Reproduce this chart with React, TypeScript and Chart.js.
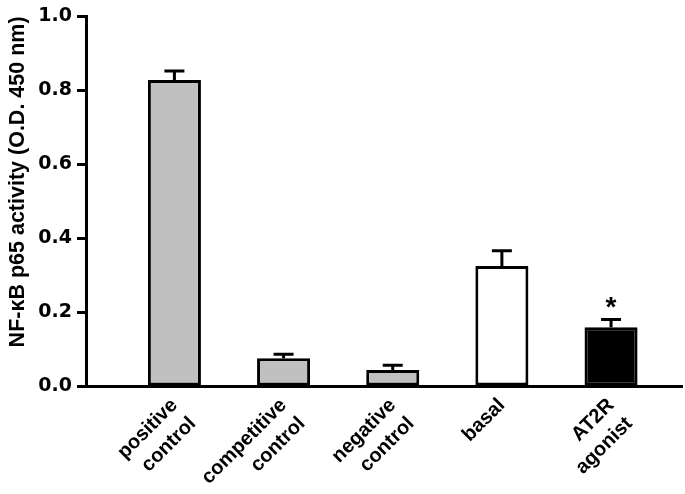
import React, { useEffect, useRef } from 'react';
import { Chart, registerables } from 'chart.js';

Chart.register(...registerables);

const categories: string[][] = [
  ['positive', 'control'],
  ['competitive', 'control'],
  ['negative', 'control'],
  ['basal'],
  ['AT2R', 'agonist'],
];
const positions: number[] = [1, 2, 3, 4, 5];
const means: number[] = [0.828, 0.075, 0.043, 0.325, 0.159];
const errorTops: number[] = [0.852, 0.086, 0.056, 0.366, 0.18];
const barColors: string[] = ['#c0c0c0', '#c0c0c0', '#c0c0c0', '#ffffff', '#000000'];
const significance: string[] = ['', '', '', '', '*'];
const yTickValues: number[] = [0, 0.2, 0.4, 0.6, 0.8, 1.0];
const yTitle = 'NF-\u03baB p65 activity (O.D. 450 nm)';

const errorBarPlugin = {
  id: 'errorBars',
  afterDatasetsDraw(chart: any) {
    const meta = chart.getDatasetMeta(0);
    const yScale = chart.scales.y;
    const ctx = chart.ctx as CanvasRenderingContext2D;
    ctx.save();
    ctx.strokeStyle = '#000';
    ctx.fillStyle = '#000';
    ctx.lineWidth = 3;
    meta.data.forEach((bar: any, i: number) => {
      const x = bar.x;
      const top = bar.y;
      const capY = yScale.getPixelForValue(errorTops[i]);
      ctx.beginPath();
      ctx.moveTo(x, top);
      ctx.lineTo(x, capY);
      ctx.moveTo(x - 10, capY);
      ctx.lineTo(x + 10, capY);
      ctx.stroke();
      if (significance[i]) {
        ctx.font = 'bold 28px "Liberation Sans", Arial, sans-serif';
        ctx.textAlign = 'center';
        ctx.textBaseline = 'alphabetic';
        ctx.fillText(significance[i], x, capY - 3);
      }
    });
    ctx.restore();
  },
};

export default function App() {
  const canvasRef = useRef<HTMLCanvasElement | null>(null);

  useEffect(() => {
    if (!canvasRef.current) return;
    const chart = new Chart(canvasRef.current, {
      type: 'bar',
      data: {
        datasets: [
          {
            data: positions.map((p, i) => ({ x: p, y: means[i] })),
            backgroundColor: barColors,
            borderColor: '#000',
            borderWidth: 3,
            borderSkipped: false,
            barPercentage: 0.486,
            categoryPercentage: 1,
          },
        ],
      },
      options: {
        animation: false,
        responsive: false,
        devicePixelRatio: 1,
        layout: { padding: { top: 14, right: 3, bottom: 0, left: 0 } },
        plugins: { legend: { display: false }, tooltip: { enabled: false } },
        scales: {
          x: {
            type: 'linear',
            offset: false,
            min: 0.19,
            max: 5.65,
            afterBuildTicks: (scale: any) => {
              scale.ticks = positions.map((v) => ({ value: v }));
            },
            afterFit: (scale: any) => {
              scale.height = 108;
            },
            grid: { display: true, drawOnChartArea: false, drawTicks: false, color: 'rgba(0,0,0,0)' },
            border: { display: true, color: '#000', width: 3 },
            ticks: {
              autoSkip: false,
              minRotation: 45,
              maxRotation: 45,
              padding: 7,
              color: '#000',
              font: { family: '"Liberation Sans", Arial, sans-serif', weight: 'bold', size: 20, lineHeight: 1.3 },
              callback: (value: any) => {
                const idx = positions.indexOf(Number(value));
                return idx >= 0 ? categories[idx] : '';
              },
            },
          },
          y: {
            min: 0,
            max: 1,
            afterBuildTicks: (scale: any) => {
              scale.ticks = yTickValues.map((v) => ({ value: v }));
            },
            afterFit: (scale: any) => {
              scale.width = 86;
            },
            grid: {
              display: true,
              drawOnChartArea: false,
              drawTicks: true,
              tickLength: 9,
              tickWidth: 3,
              tickColor: '#000',
              color: '#000',
            },
            border: { display: true, color: '#000', width: 3 },
            ticks: {
              padding: 5,
              color: '#000',
              font: { family: '"DejaVu Sans", sans-serif', weight: 'bold', size: 19 },
              callback: (value: any) => Number(value).toFixed(1),
            },
            title: {
              display: true,
              text: yTitle,
              align: 'end',
              color: '#000',
              padding: { top: 5, bottom: 0 },
              font: { family: '"Liberation Sans", Arial, sans-serif', weight: 'bold', size: 21.5 },
            },
          },
        },
      },
      plugins: [errorBarPlugin],
    } as any);
    return () => chart.destroy();
  }, []);

  return (
    <div style={{ position: 'absolute', left: 0, top: 0, width: 685, height: 494, background: '#fff' }}>
      <canvas ref={canvasRef} width={685} height={494} style={{ display: 'block' }} />
    </div>
  );
}
